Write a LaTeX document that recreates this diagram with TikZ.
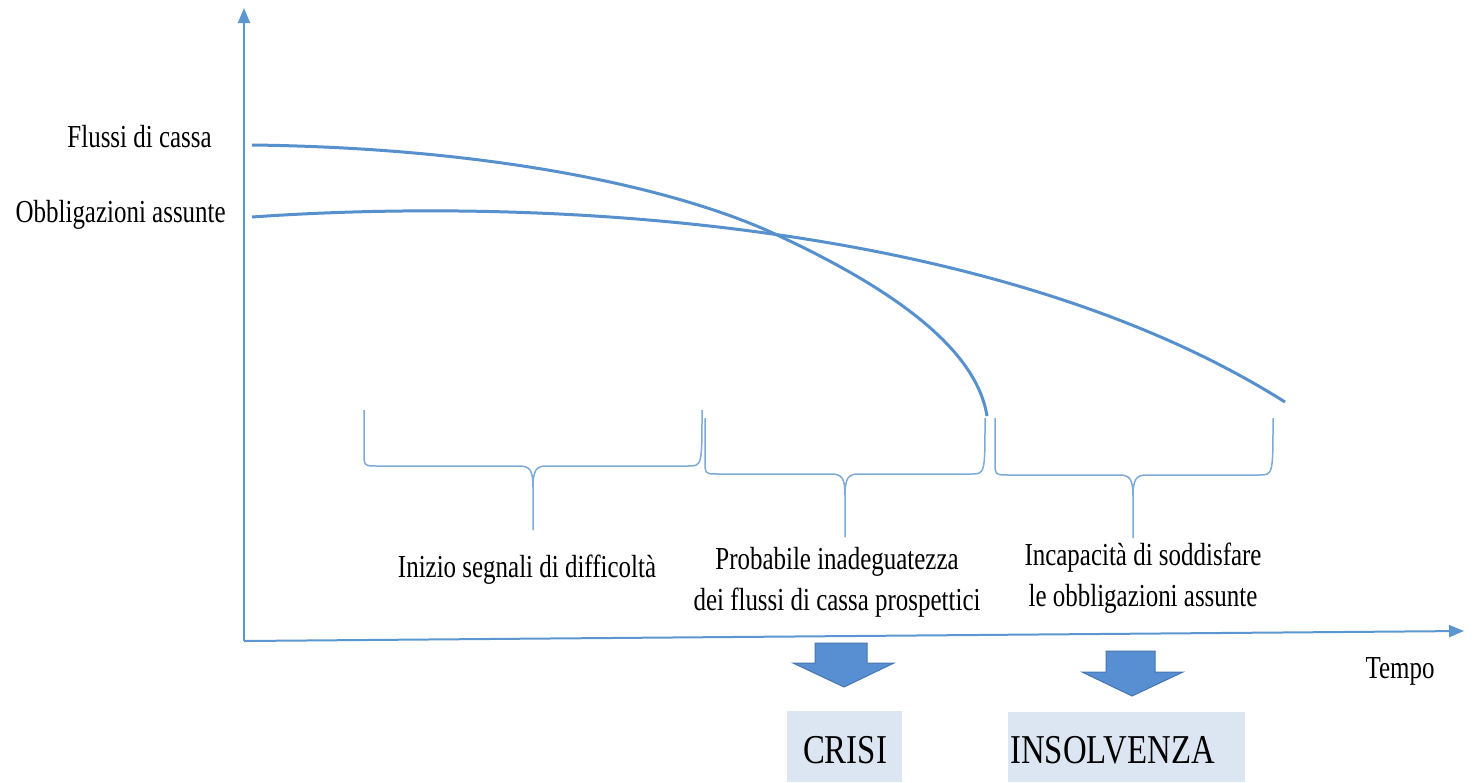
\documentclass[tikz,border=0pt]{standalone}
\usepackage{fontspec}
\setmainfont{Liberation Serif}
\usetikzlibrary{positioning, arrows.meta, calc}
\definecolor{axisblue}{RGB}{91,150,208}
\definecolor{curveblue}{RGB}{86,145,205}
\definecolor{bracecol}{RGB}{125,170,215}
\definecolor{arrowfill}{RGB}{88,143,210}
\definecolor{arrowline}{RGB}{70,118,178}
\definecolor{boxfill}{RGB}{220,230,242}

\tikzset{
  axis/.style={axisblue, line width=1pt, -{Triangle[length=7.5pt, width=6pt]}},
  curve/.style={curveblue, line width=1.5pt},
  bracket/.style={bracecol, line width=0.75pt},
  lbl/.style={font=\fontsize{16}{20.5}\selectfont, xscale=0.78, transform shape, inner sep=0pt, align=center},
  biglbl/.style={font=\fontsize{20.5}{24}\selectfont, xscale=0.8, transform shape, inner sep=0pt},
  blockarrow/.style={fill=arrowfill, draw=arrowline, line width=0.5pt, line join=miter}
}

\begin{document}
\begin{tikzpicture}[x=0.5pt, y=-0.5pt]
    \useasboundingbox (0,0) rectangle (1476,782);
    % axes
    \coordinate (o) at (244,641);
    \coordinate (ytop) at (244,8);
    \coordinate (xend) at (1464,631);
    \draw[axis] (o) -- (ytop);
    \draw[axis] (o) -- (xend);
    \node[lbl, anchor=base] (tempo) at (1400,678) {Tempo};

    % the two curves
    \node[lbl, anchor=base east] (flussi) at (212,147) {Flussi di cassa};
    \node[lbl, anchor=base east] (obblig) at (226,222) {Obbligazioni assunte};
    \coordinate (f0) at (252,145);
    \coordinate (fx) at (775,234);
    \coordinate (f1) at (987,416);
    \coordinate (b0) at (252,217);
    \coordinate (b1) at (1285,402);
    \draw[curve] (f0) .. controls (500,148) and (680,190) .. (fx)
        .. controls (870,278) and (975,340) .. (f1);
    \draw[curve] (b0) .. controls (550,196) and (1000,222) .. (b1);

    % braces
    \foreach \xa/\xm/\xb/\ya/\yh/\yt in {364/533/702/410/466/530, 705/845/985/418/474/537, 995/1133/1273/418/475/538}
        \draw[bracket] (\xa,\ya) -- (\xa,\yh-14) .. controls (\xa,\yh) and (\xa,\yh) .. (\xa+14,\yh)
            -- (\xm-14,\yh) .. controls (\xm-3,\yh) and (\xm,\yh+4) .. (\xm,\yh+22) -- (\xm,\yt)
            (\xm,\yh+22) .. controls (\xm,\yh+4) and (\xm+3,\yh) .. (\xm+14,\yh)
            -- (\xb-14,\yh) .. controls (\xb,\yh) and (\xb,\yh) .. (\xb,\ya);

    \node[lbl, anchor=base] (inizio) at (527,577) {Inizio segnali di difficoltà};
    \node[lbl, anchor=base] (probabile) at (837,610) {Probabile inadeguatezza\\dei flussi di cassa prospettici};
    \node[lbl, anchor=base] (incapacita) at (1143,606) {Incapacità di soddisfare\\le obbligazioni assunte};

    % outcomes
    \fill[boxfill] (787,711) rectangle (902,782);
    \fill[boxfill] (1008,712) rectangle (1245,782);
    \node[biglbl, anchor=base] (crisi) at (845,763) {CRISI};
    \node[biglbl, anchor=base west] (insolv) at (1010,763) {INSOLVENZA};
    \draw[blockarrow] (815,643) -- (867,643) -- (867,663) -- (894,663) -- (844,687) -- (793,663) -- (815,663) -- cycle;
    \draw[blockarrow] (1106,651) -- (1155,651) -- (1155,672) -- (1183,672) -- (1132,696) -- (1082,672) -- (1106,672) -- cycle;
\end{tikzpicture}
\end{document}
